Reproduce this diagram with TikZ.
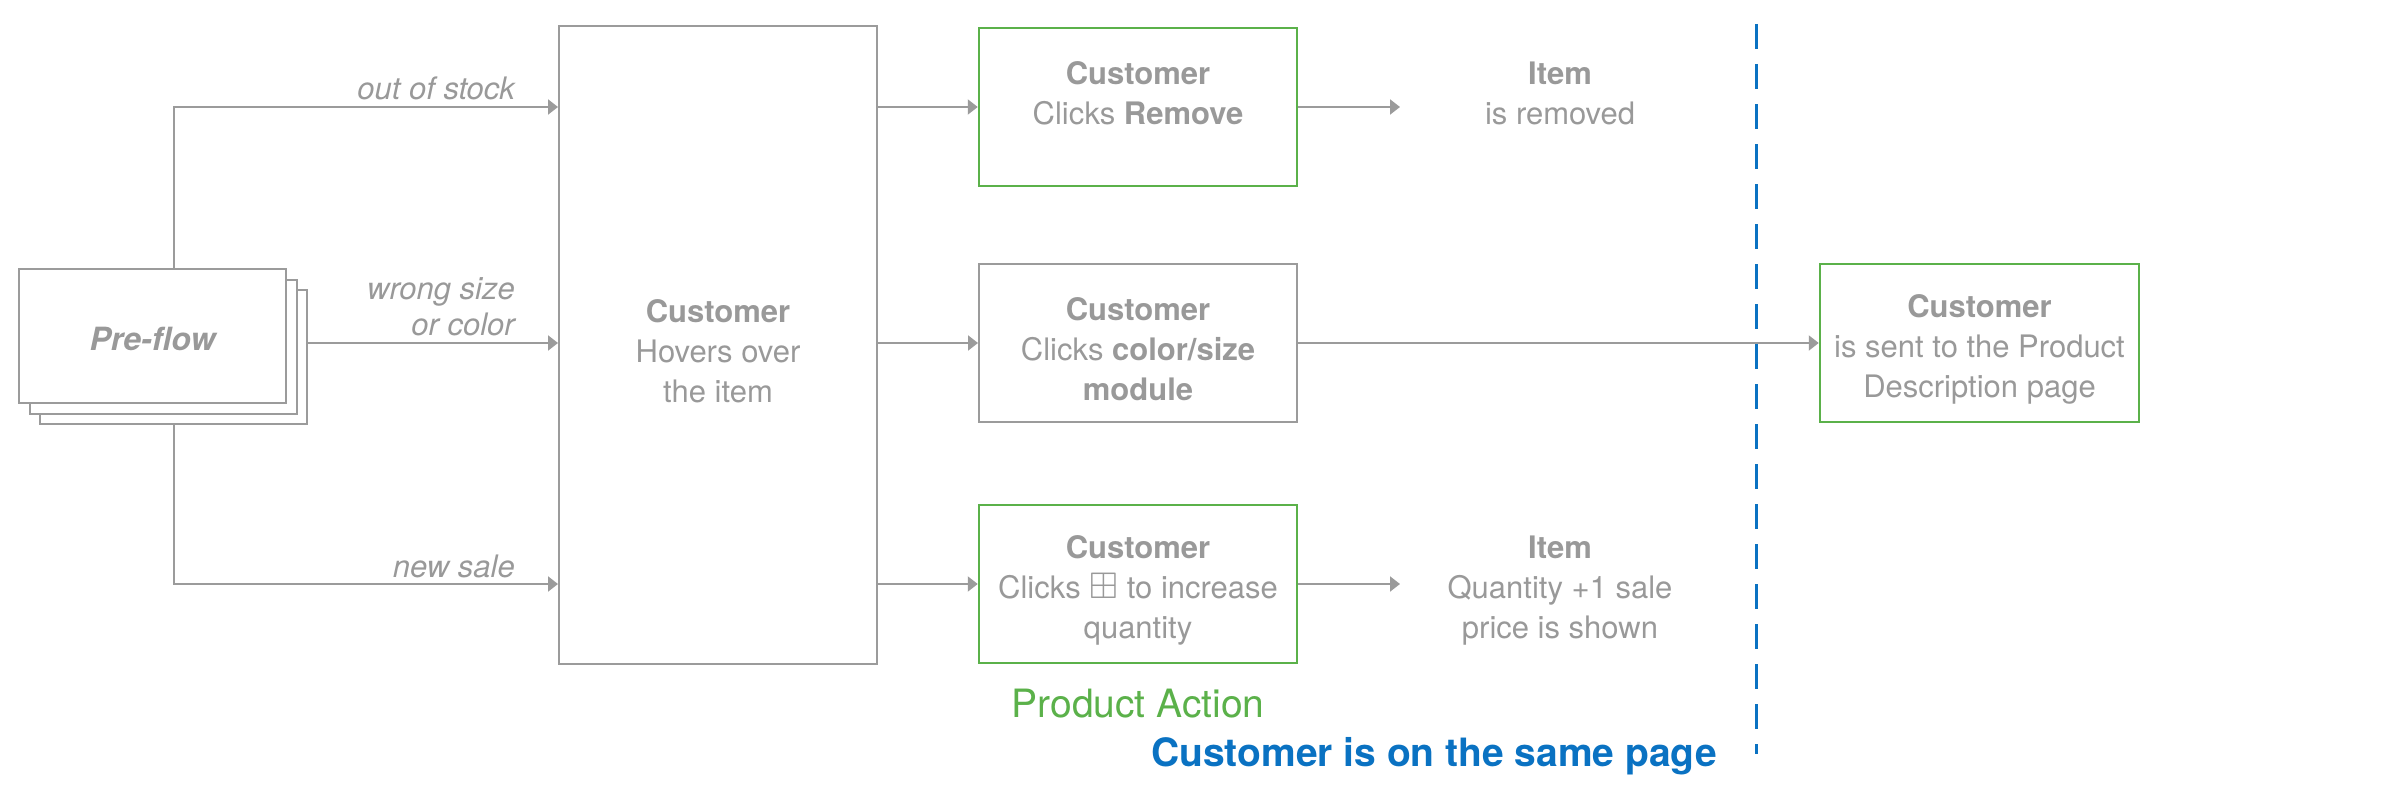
\documentclass[tikz,border=0pt]{standalone}
\usepackage{amssymb}
\usepackage{fontspec}
\setmainfont{TeX Gyre Heros}
\usepackage{tikz}
\usetikzlibrary{arrows.meta,positioning,calc}
\definecolor{txtgray}{HTML}{999999}
\definecolor{linegray}{HTML}{9B9B9B}
\definecolor{actgreen}{HTML}{5BB14A}
\definecolor{pageblue}{HTML}{0A72C2}
\newcommand{\hw}[1]{\rule{0pt}{35pt}\textbf{#1}}
\newcommand{\plusicon}{{\fontsize{37}{40}\selectfont$\boxplus$}}

\begin{document}
\begin{tikzpicture}[x=1pt,y=-1pt,
  txt/.style={text=txtgray,align=center,inner sep=0pt,font=\fontsize{31}{40}\selectfont},
  box/.style={txt,draw=linegray,line width=2pt,minimum width=318pt,minimum height=158pt},
  gbox/.style={box,draw=actgreen,line width=2.5pt},
  pbox/.style={box,fill=white,minimum width=267pt,minimum height=134pt},
  lbl/.style={text=txtgray,align=right,inner sep=0pt,font=\fontsize{31}{36}\selectfont\itshape},
  flow/.style={draw=linegray,line width=2pt,-{Triangle[length=10pt,width=15pt]}}]
\useasboundingbox (0,0) rectangle (2400,800);

% pre-flow stack
\node[pbox] (pre3) at (173.5,357) {};
\node[pbox] (pre2) at (163,346.5) {};
\node[pbox,font=\fontsize{32}{40}\selectfont\bfseries\itshape] (pre) at (152.5,336) {\rule{0pt}{30pt}Pre-flow};

% customer steps
\node[box,minimum height=637pt] (hover) at (718,345) {\hw{Customer}\\Hovers over\\the item};
\node[gbox] (remove) at (1138,107) {\hw{Customer}\\Clicks \textbf{Remove}\\\mbox{}};
\node[box] (module) at (1138,343) {\hw{Customer}\\Clicks \textbf{color/size}\\\textbf{module}};
\node[gbox] (plus) at (1138,584) {\hw{Customer}\\Clicks \plusicon{} to increase\\quantity};
\node[gbox,minimum width=319pt] (pdp) at (1979.5,343) {\hw{Customer}\\is sent to the Product\\Description page};

% results
\node[txt] (gone) at (1560,107) {\hw{Item}\\is removed\\\mbox{}};
\node[txt] (more) at (1560,584) {\hw{Item}\\Quantity +1 sale\\price is shown};
\coordinate (e1) at (1400,107);
\coordinate (e3) at (1400,584);

% branch labels
\node[lbl,anchor=base east,xshift=-43pt,yshift=8pt] (oos) at (hover.west |- remove.west) {out of stock};
\node[lbl,anchor=south east,xshift=-43pt,yshift=7pt] (wrong) at (hover.west |- module.west) {wrong size\\or color};
\node[lbl,anchor=base east,xshift=-43pt,yshift=7pt] (sale) at (hover.west |- plus.west) {new sale};

% connectors
\draw[flow] (pre.north -| pre3.center) |- (hover.west |- remove.west);
\draw[flow] (pre3.east |- module.west) -- (hover.west |- module.west);
\draw[flow] (pre3.south) |- (hover.west |- plus.west);
\draw[flow] (hover.east |- remove.west) -- (remove.west);
\draw[flow] (hover.east |- module.west) -- (module.west);
\draw[flow] (hover.east |- plus.west) -- (plus.west);
\draw[flow] (remove.east) -- (e1);
\draw[flow] (plus.east) -- (e3);
\draw[flow] (module.east) -- (pdp.west);

% page divider
\draw[pageblue,line width=3pt,dash pattern=on 25pt off 15pt] (1756,24) -- (1756,754);

\node[anchor=base,text=actgreen,inner sep=0pt,font=\fontsize{39}{44}\selectfont] (action) at (plus.south |- 0,717) {Product Action};
\node[anchor=base west,text=pageblue,inner sep=0pt,font=\fontsize{39}{44}\selectfont\bfseries] (same) at (1151,766) {Customer is on the same page};
\end{tikzpicture}
\end{document}
